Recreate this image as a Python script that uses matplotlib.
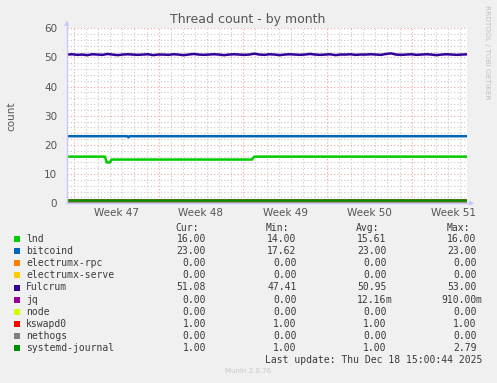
import numpy as np
import matplotlib.pyplot as plt
from matplotlib.ticker import MultipleLocator

# series names / colours (munin palette)
names = ['lnd', 'bitcoind', 'electrumx-rpc', 'electrumx-serve', 'Fulcrum',
         'jq', 'node', 'kswapd0', 'nethogs', 'systemd-journal']
colors = ['#00CC00', '#0066B3', '#FF8000', '#FFCC00', '#330099',
          '#990099', '#CCFF00', '#FF0000', '#808080', '#008F00']

cur = ['16.00', '23.00', '0.00', '0.00', '51.08', '0.00', '0.00', '1.00', '0.00', '1.00']
mins = ['14.00', '17.62', '0.00', '0.00', '47.41', '0.00', '0.00', '1.00', '0.00', '1.00']
avgs = ['15.61', '23.00', '0.00', '0.00', '50.95', '12.16m', '0.00', '1.00', '0.00', '1.00']
maxs = ['16.00', '23.00', '0.00', '0.00', '53.00', '910.00m', '0.00', '1.00', '0.00', '2.79']

# time axis in days, 0 = monday of week 47
t_start, t_end = -0.6, 32.6
week_labels = ['Week 47', 'Week 48', 'Week 49', 'Week 50', 'Week 51']
y_ticks = [0, 10, 20, 30, 40, 50, 60]

lnd_t = [-0.6, 2.55, 2.7, 2.95, 3.1, 14.75, 14.95, 32.6]
lnd_v = [16, 16, 14, 14, 15, 15, 16, 16]

btc_t = [-0.6, 4.4, 4.5, 4.6, 32.6]
btc_v = [23, 23, 22.6, 23, 23]

fulcrum_v = [51.0, 51.1, 50.9, 51.0, 50.8, 51.1, 51.0, 50.9, 51.2, 51.0,
             50.8, 51.0, 51.1, 51.0, 50.9, 51.0, 51.1, 50.8, 51.0, 51.0,
             50.9, 51.1, 51.0, 50.8, 51.0, 51.2, 51.0, 50.9, 51.0, 51.1,
             51.0, 50.8, 51.0, 51.1, 51.0, 50.9, 51.0, 51.3, 51.0, 50.9,
             51.1, 51.0, 50.8, 51.0, 51.1, 51.0, 50.9, 51.0, 51.2, 51.0,
             50.9, 51.0, 51.1, 50.8, 51.0, 51.0, 51.1, 50.9, 51.0, 51.0,
             51.1, 51.0, 50.9, 51.2, 51.4, 51.0, 50.9, 51.0, 51.1, 50.9,
             51.0, 51.1, 51.0, 50.8, 51.0, 51.1, 51.0, 50.9, 51.0, 51.08]
fulcrum_t = np.linspace(t_start, t_end, len(fulcrum_v))

const_t = [t_start, t_end]
zero_v = [0, 0]
one_v = [1, 1]

W, H = 497, 383
fig = plt.figure(figsize=(W / 100, H / 100), dpi=100)
fig.patch.set_facecolor('#F0F0F0')

# plot area in pixels
px_l, px_r, px_t, px_b = 67, 467, 28.3, 203.3
ax = fig.add_axes([px_l / W, 1 - px_b / H, (px_r - px_l) / W, (px_b - px_t) / H])
ax.set_facecolor('white')
ax.set_xlim(t_start, t_end)
ax.set_ylim(0, 60)

# grid: daily / every 2 minor, weekly / every 10 major
ax.set_xticks([0, 7, 14, 21, 28])
ax.set_yticks(y_ticks)
ax.xaxis.set_minor_locator(MultipleLocator(1))
ax.yaxis.set_minor_locator(MultipleLocator(2))
ax.grid(which='minor', color='#C8C8C8', linestyle=(0, (1, 2)), linewidth=0.8)
ax.grid(which='major', color='#F0A0A0', linestyle=(0, (1, 2)), linewidth=0.8)
ax.set_axisbelow(True)

lw = 1.8
ax.plot(lnd_t, lnd_v, color=colors[0], lw=lw)
ax.plot(btc_t, btc_v, color=colors[1], lw=lw)
ax.plot(const_t, zero_v, color=colors[2], lw=lw)
ax.plot(const_t, zero_v, color=colors[3], lw=lw)
ax.plot(fulcrum_t, fulcrum_v, color=colors[4], lw=lw)
ax.plot(const_t, zero_v, color=colors[5], lw=lw)
ax.plot(const_t, zero_v, color=colors[6], lw=lw)
ax.plot(const_t, one_v, color=colors[7], lw=lw)
ax.plot(const_t, zero_v, color=colors[8], lw=lw)
ax.plot(const_t, one_v, color=colors[9], lw=lw)

for s in ax.spines.values():
    s.set_visible(False)
ax.tick_params(which='both', length=0, colors='#555555', labelsize=7.5)
ax.set_xticklabels([])
ax.set_yticklabels([str(v) for v in y_ticks])
ax.tick_params(axis='y', pad=7)

# week labels at mid-week
for i, lab in enumerate(week_labels):
    ax.text(3.5 + 7 * i, -3.2, lab, ha='center', va='center', fontsize=7.5,
            color='#555555', clip_on=False)

# axes lines with arrows
axis_col = '#C8C8FF'
fig.add_artist(plt.Line2D([px_l / W, px_l / W], [1 - px_b / H, 1 - 22 / H],
                          color=axis_col, lw=1))
fig.add_artist(plt.Line2D([px_l / W, 471 / W], [1 - px_b / H, 1 - px_b / H],
                          color=axis_col, lw=1))
fig.text(px_l / W, 1 - 23 / H, '\u25b2', color=axis_col, fontsize=5,
         ha='center', va='center')
fig.text(472 / W, 1 - px_b / H, '\u25b6', color=axis_col, fontsize=5,
         ha='center', va='center')

fig.text(248 / W, 1 - 19 / H, 'Thread count - by month', ha='center', va='center',
         fontsize=9, color='#555555')
fig.text(11 / W, 1 - 116 / H, 'count', rotation=90, ha='center', va='center',
         fontsize=7.5, color='#555555')
fig.text(487 / W, 1 - 52 / H, 'RRDTOOL / TOBI OETIKER', rotation=270, ha='center',
         va='center', fontsize=5.3, color='#C0C0C0')

# legend table
mono = 'DejaVu Sans Mono'
fs = 7
tc = '#3a3a3a'
fig.text(199 / W, 1 - 227.7 / H, 'Cur:', ha='right', va='center', family=mono, fontsize=fs, color=tc)
fig.text(289 / W, 1 - 227.7 / H, 'Min:', ha='right', va='center', family=mono, fontsize=fs, color=tc)
fig.text(379 / W, 1 - 227.7 / H, 'Avg:', ha='right', va='center', family=mono, fontsize=fs, color=tc)
fig.text(470 / W, 1 - 227.7 / H, 'Max:', ha='right', va='center', family=mono, fontsize=fs, color=tc)

def put_val(xr, y, s):
    # numbers right aligned, unit suffix hangs after them
    if s.endswith('m'):
        fig.text(xr / W, y, s[:-1], ha='right', va='center', family=mono, fontsize=fs, color=tc)
        fig.text((xr - 0.5) / W, y, 'm', ha='left', va='center', family=mono, fontsize=fs, color=tc)
    else:
        fig.text(xr / W, y, s, ha='right', va='center', family=mono, fontsize=fs, color=tc)

for i, name in enumerate(names):
    yc = 239.3 + 12.05 * i
    y = 1 - yc / H
    fig.patches.append(plt.Rectangle((14 / W, 1 - (yc + 3) / H), 6 / W, 6 / H,
                                     transform=fig.transFigure, facecolor=colors[i],
                                     edgecolor='none'))
    fig.text(26 / W, y, name, ha='left', va='center', family=mono, fontsize=fs, color=tc)
    put_val(206, y, cur[i])
    put_val(296.5, y, mins[i])
    put_val(386.5, y, avgs[i])
    put_val(476.5, y, maxs[i])

fig.text(482 / W, 1 - 360 / H, 'Last update: Thu Dec 18 15:00:44 2025', ha='right',
         va='center', family=mono, fontsize=fs, color=tc)
fig.text(248 / W, 1 - 371 / H, 'Munin 2.0.76', ha='center', va='center',
         fontsize=5, color='#C8C8C8')

fig.savefig('out.png', dpi=100, facecolor=fig.get_facecolor())
